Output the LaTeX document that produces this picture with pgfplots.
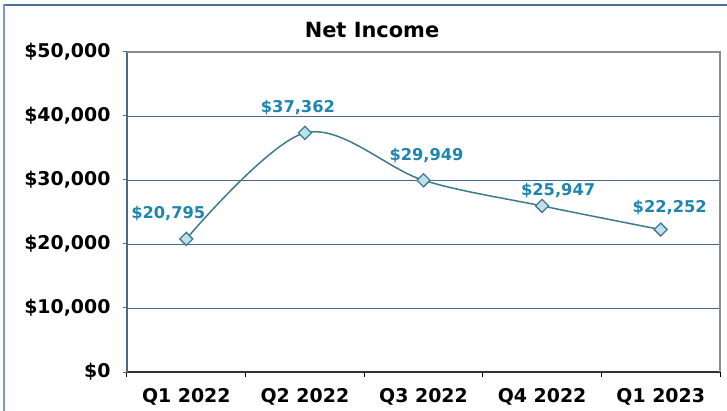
\documentclass[border=0pt]{standalone}
\usepackage{pgfplots}
\pgfplotsset{compat=1.18}
\usepackage{pgfplotstable}
\usepackage{fontspec}
\setmainfont{DejaVu Sans}
\definecolor{frameblue}{HTML}{4A6F9C}
\definecolor{frameleft}{HTML}{7F98B8}
\definecolor{gridc}{HTML}{4C6885}
\definecolor{linec}{HTML}{3F7A8C}
\definecolor{markf}{HTML}{BEE0EC}
\definecolor{labc}{HTML}{1E86AE}
\definecolor{boxgray}{HTML}{8C8C8C}
\pgfplotstableread{
x y dx dy lab
1 20795 -18 25 20,795
2 37362 -7 25 37,362
3 29949 3 25 29,949
4 25947 16 15 25,947
5 22252 9 22 22,252
}\netdata
\begin{document}
\begin{tikzpicture}
\useasboundingbox (-127bp,-39bp) rectangle (600bp,372bp);
\draw[frameblue,line width=2bp] (-124bp,367bp) -- (600bp,367bp);
\draw[frameleft,line width=2bp] (-123bp,-39bp) -- (-123bp,368bp);
\node[font=\bfseries\fontsize{21}{24}\selectfont] at (245bp,342bp) {Net Income};
\begin{axis}[
  at={(0,0)}, anchor=south west,
  scale only axis, width=593bp, height=320bp,
  xmin=0.5, xmax=5.5, ymin=0, ymax=50000,
  scaled y ticks=false,
  xtick={1,2,3,4,5},
  xticklabels={Q1 2022,Q2 2022,Q3 2022,Q4 2022,Q1 2023},
  minor xtick={0.5,1.5,2.5,3.5,4.5,5.5},
  ytick={0,10000,20000,30000,40000,50000},
  yticklabels={\$0,\$10{,}000,\$20{,}000,\$30{,}000,\$40{,}000,\$50{,}000},
  yticklabel style={font=\bfseries\fontsize{19}{21}\selectfont, xshift=-9bp},
  xticklabel style={font=\bfseries\fontsize{19}{21}\selectfont, yshift=-9bp},
  tick align=outside,
  x tick style={draw=none},
  minor x tick style={draw=black, line width=1bp},
  minor tick length=5bp,
  y tick style={draw=gridc, line width=1bp},
  major tick length=4bp,
  ymajorgrids, grid style={gridc, line width=0.9bp},
  axis x line*=bottom, axis y line*=left,
  x axis line style={draw=black!80, line width=1.2bp, -},
  y axis line style={draw=gridc, line width=1.5bp, -},
  clip=false,
  nodes near coords={\$\pgfplotspointmeta},
  point meta=explicit symbolic,
  visualization depends on={\thisrow{dx}\as\dx},
  visualization depends on={\thisrow{dy}\as\dy},
  every node near coord/.append style={anchor=center, xshift=\dx bp, yshift=\dy bp, text=labc, font=\bfseries\fontsize{16.3}{19}\selectfont},
]
\draw[boxgray, line width=2.4bp] (axis cs:0.5,50000) -- (axis cs:5.5,50000) -- (axis cs:5.5,0);
\addplot[linec, line width=1.5bp, smooth, tension=0.55,
  mark=square*, mark size=4.6bp, mark options={rotate=45, fill=markf, draw=linec, line width=1.3bp}]
  table[x=x, y=y, meta=lab] {\netdata};
\end{axis}
\end{tikzpicture}
\end{document}
